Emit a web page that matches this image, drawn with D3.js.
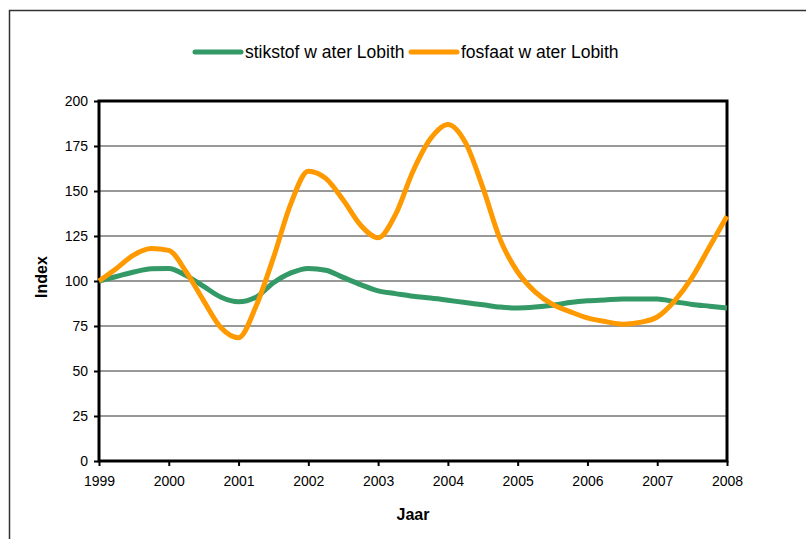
<!DOCTYPE html>
<html>
<head>
<meta charset="utf-8">
<script src="https://cdn.jsdelivr.net/npm/d3@7"></script>
<style>
  body { margin: 0; background: #fff; }
  svg { display: block; font-family: "Liberation Sans", Arial, sans-serif; }
</style>
</head>
<body>
<div id="chart"></div>
<script>
// quarterly readings, index 1999 = 100
const years = [1999, 1999.25, 1999.5, 1999.75, 2000, 2000.25, 2000.5, 2000.75,
  2001, 2001.25, 2001.5, 2001.75, 2002, 2002.25, 2002.5, 2002.75,
  2003, 2003.25, 2003.5, 2003.75, 2004, 2004.25, 2004.5, 2004.75,
  2005, 2005.25, 2005.5, 2005.75, 2006, 2006.25, 2006.5, 2006.75,
  2007, 2007.25, 2007.5, 2007.75, 2008];
const stikstof = [100, 102.5, 105, 106.8, 107, 103, 97, 91,
  88.5, 91, 99, 104.5, 107, 106, 102, 98,
  94.5, 93, 91.5, 90.5, 89.3, 88, 86.8, 85.5,
  85, 85.5, 86.5, 88, 89, 89.5, 90, 90,
  90, 88.5, 87, 86, 85];
const fosfaat = [100, 107, 114.5, 118, 117, 105, 89, 74,
  68.5, 86, 113, 143, 161, 157, 145, 131,
  124, 137, 161, 179, 187, 177, 152, 123,
  105, 94, 87, 83, 79.5, 77.5, 76, 77,
  80, 89, 102, 119, 136];
const yearTicks = [1999, 2000, 2001, 2002, 2003, 2004, 2005, 2006, 2007, 2008];
const indexTicks = [0, 25, 50, 75, 100, 125, 150, 175, 200];
const seriesNames = ['stikstof w ater Lobith', 'fosfaat w ater Lobith'];
const seriesColors = ['#339966', '#ff9900'];

const W = 806, H = 539;
const margin = { top: 101, right: 79, bottom: 78, left: 99 };
const width = W - margin.left - margin.right;
const height = H - margin.top - margin.bottom;

const svg = d3.select('#chart').append('svg')
  .attr('width', W)
  .attr('height', H);

// outer frame
svg.append('path')
  .attr('d', `M9.5,${H} V10.5 H${W}`)
  .attr('fill', 'none')
  .attr('stroke', '#333')
  .attr('stroke-width', 1.5);

const g = svg.append('g')
  .attr('transform', `translate(${margin.left}, ${margin.top})`);

const xScale = d3.scaleLinear().domain([1999, 2008]).range([0, width]);
const yScale = d3.scaleLinear().domain([0, 200]).range([height, 0]);

// gridlines
g.selectAll('.grid')
  .data(indexTicks.filter((d) => d > 0 && d < 200))
  .enter()
  .append('line')
  .attr('class', 'grid')
  .attr('x1', 0)
  .attr('x2', width)
  .attr('y1', (d) => yScale(d))
  .attr('y2', (d) => yScale(d))
  .attr('stroke', '#333')
  .attr('stroke-width', 1);

const yAxis = d3.axisLeft(yScale).tickValues(indexTicks).tickSize(5).tickPadding(6);
g.append('g').attr('class', 'y-axis').call(yAxis);

const xAxis = d3.axisBottom(xScale).tickValues(yearTicks).tickFormat(d3.format('d')).tickSize(5).tickPadding(10);
g.append('g')
  .attr('class', 'x-axis')
  .attr('transform', `translate(0, ${height})`)
  .call(xAxis);

d3.selectAll('.x-axis .domain, .y-axis .domain').remove();
d3.selectAll('.x-axis line, .y-axis line').attr('stroke', '#000').attr('stroke-width', 2);
d3.selectAll('.x-axis text, .y-axis text')
  .attr('fill', '#000')
  .attr('font-size', 14)
  .attr('font-family', '"Liberation Sans", Arial, sans-serif');

// plot border
g.append('rect')
  .attr('width', width)
  .attr('height', height)
  .attr('fill', 'none')
  .attr('stroke', '#000')
  .attr('stroke-width', 3);

const line = d3.line()
  .x((d) => xScale(d.year))
  .y((d) => yScale(d.value))
  .curve(d3.curveMonotoneX);

[stikstof, fosfaat].forEach((values, i) => {
  const data = years.map((year, j) => ({ year, value: values[j] }));
  g.append('path')
    .datum(data)
    .attr('fill', 'none')
    .attr('stroke', seriesColors[i])
    .attr('stroke-width', 5)
    .attr('stroke-linejoin', 'round')
    .attr('d', line);
});

// axis titles
svg.append('text')
  .attr('transform', `translate(47, ${margin.top + height / 2 - 4}) rotate(-90)`)
  .attr('text-anchor', 'middle')
  .attr('font-size', 16)
  .attr('font-weight', 'bold')
  .text('Index');

svg.append('text')
  .attr('x', margin.left + width / 2)
  .attr('y', 520)
  .attr('text-anchor', 'middle')
  .attr('font-size', 16)
  .attr('font-weight', 'bold')
  .text('Jaar');

// legend
const legendX = [195, 411];
seriesNames.forEach((name, i) => {
  const lg = svg.append('g').attr('transform', `translate(${legendX[i]}, 52)`);
  lg.append('line')
    .attr('x1', 0).attr('x2', 46)
    .attr('stroke', seriesColors[i])
    .attr('stroke-width', 5)
    .attr('stroke-linecap', 'round');
  lg.append('text')
    .attr('x', 50)
    .attr('y', 6)
    .attr('font-size', 17.5)
    .text(name);
});
</script>
</body>
</html>
